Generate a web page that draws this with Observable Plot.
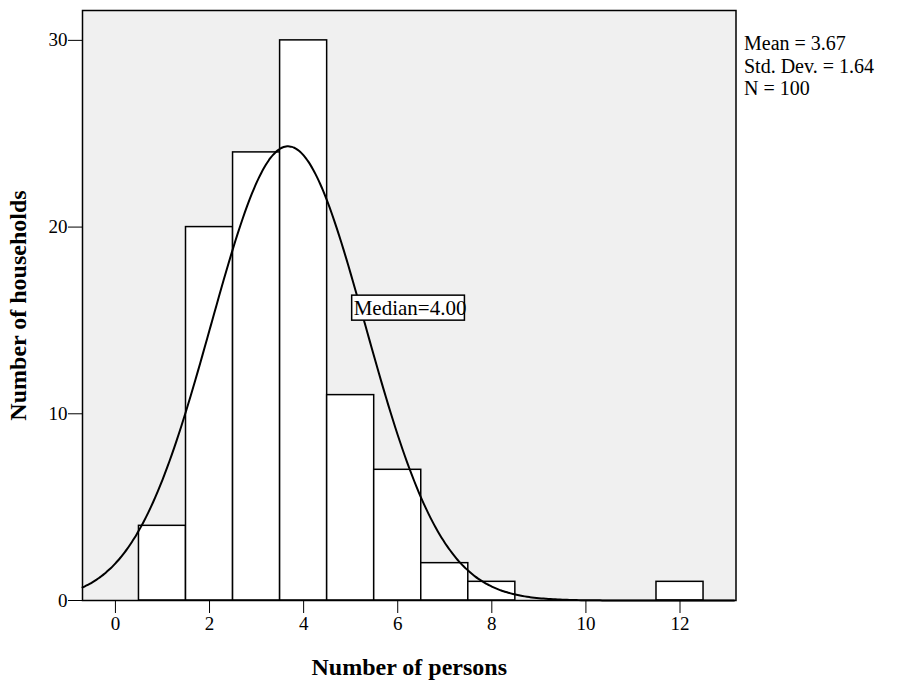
<!DOCTYPE html>
<html>
<head>
<meta charset="utf-8">
<script src="https://cdn.jsdelivr.net/npm/d3@7"></script>
<script src="https://cdn.jsdelivr.net/npm/@observablehq/plot@0.6"></script>
<style>
  html, body { margin: 0; padding: 0; background: #fff; }
  #chart svg { display: block; }
  g[aria-label="y-axis label"] text, g[aria-label="x-axis label"] text { font-weight: bold; font-size: 24px !important; }
  g[aria-label="x-axis tick label"], g[aria-label="y-axis tick label"],
  g[aria-label="x-axis tick label"] text, g[aria-label="y-axis tick label"] text { font-size: 19px !important; }
</style>
</head>
<body>
<div id="chart"></div>
<script>
// Histogram data
const persons = [1, 2, 3, 4, 5, 6, 7, 8, 12];
const households = [4, 20, 24, 30, 11, 7, 2, 1, 1];
const binWidth = 1;

// Summary statistics shown on the chart
const mean = 3.67;
const stdDev = 1.64;
const nTotal = 100;
const median = 4.00;

const xTicks = [0, 2, 4, 6, 8, 10, 12];
const yTicks = [0, 10, 20, 30];
const xDomain = [-0.7, 13.19];
const yDomain = [0, 31.6];

const bars = persons.map((p, i) => ({x1: p - binWidth / 2, x2: p + binWidth / 2, y: households[i]}));

// Fitted normal curve from the stated mean, SD and N
const curve = d3.range(xDomain[0], xDomain[1] + 0.001, 0.05).map(x => ({
  x,
  y: nTotal * binWidth / (stdDev * Math.sqrt(2 * Math.PI)) * Math.exp(-0.5 * ((x - mean) / stdDev) ** 2)
}));

const statsText = [`Mean = ${mean.toFixed(2)}\nStd. Dev. = ${stdDev.toFixed(2)}\nN = ${nTotal}`];

const chart = Plot.plot({
  width: 915,
  height: 680,
  marginLeft: 82,
  marginRight: 179.5,
  marginTop: 10,
  marginBottom: 80,
  style: {fontFamily: "'Liberation Serif', 'Times New Roman', serif", fontSize: "19px", color: "black", background: "white"},
  x: {domain: xDomain},
  y: {domain: yDomain},
  marks: [
    Plot.frame({fill: "#f0f0f0", stroke: "none"}),
    Plot.rectY(bars, {x1: "x1", x2: "x2", y: "y", fill: "white", stroke: "black", strokeWidth: 1.5}),
    Plot.line(curve, {x: "x", y: "y", stroke: "black", strokeWidth: 2, curve: "natural"}),
    Plot.text([`Median=${median.toFixed(2)}`], {x: 5.0, y: 15.67, text: d => d, textAnchor: "start", dx: 3, fontSize: 21, fill: "black", className: "median-label"}),
    Plot.frame({stroke: "black", strokeWidth: 1.5}),
    Plot.axisX({ticks: xTicks, tickSize: 13, tickPadding: 3, label: "Number of persons", labelAnchor: "center", labelArrow: "none", labelOffset: 74}),
    Plot.axisY({ticks: yTicks, tickSize: 14, tickPadding: 1, label: "Number of households", labelAnchor: "center", labelArrow: "none", labelOffset: 74}),
    Plot.text(statsText, {frameAnchor: "top-right", dx: 8, dy: 24, textAnchor: "start", lineAnchor: "top", lineHeight: 1.12, fontSize: 20, fill: "black", text: d => d})
  ]
});

document.getElementById("chart").appendChild(chart);

// Draw the box around the median label
const lbl = chart.querySelector(".median-label text");
if (lbl) {
  const bb = lbl.getBBox();
  const rect = document.createElementNS("http://www.w3.org/2000/svg", "rect");
  const t = lbl.getAttribute("transform");
  if (t) rect.setAttribute("transform", t);
  rect.setAttribute("x", bb.x - 2);
  rect.setAttribute("y", bb.y + bb.height / 2 - 12.5);
  rect.setAttribute("width", bb.width);
  rect.setAttribute("height", 25);
  rect.setAttribute("fill", "white");
  rect.setAttribute("stroke", "black");
  rect.setAttribute("stroke-width", "1.5");
  lbl.parentNode.insertBefore(rect, lbl);
}
</script>
</body>
</html>
